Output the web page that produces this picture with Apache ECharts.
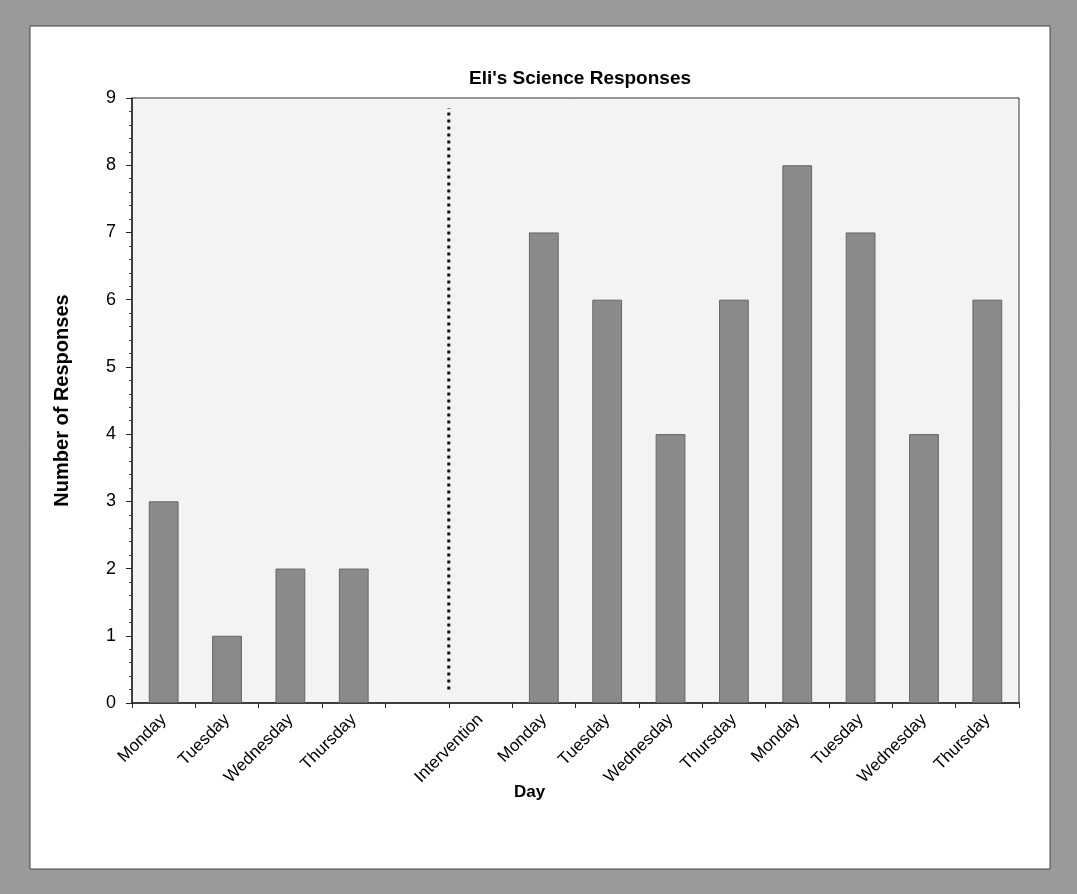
<!DOCTYPE html>
<html>
<head>
<meta charset="utf-8">
<title>Eli's Science Responses</title>
<script src="https://cdn.jsdelivr.net/npm/echarts@6/dist/echarts.min.js"></script>
<style>
  html, body { margin: 0; padding: 0; background: #fff; }
  #chart { width: 1077px; height: 894px; }
</style>
</head>
<body>
<div id="chart"></div>
<script>
  // categories along the x axis (blank slot before the intervention)
  var days = ['Monday', 'Tuesday', 'Wednesday', 'Thursday', '', 'Intervention',
    'Monday', 'Tuesday', 'Wednesday', 'Thursday', 'Monday', 'Tuesday', 'Wednesday', 'Thursday']
  // responses per day, null where no bar
  var responses = [3, 1, 2, 2, null, null, 7, 6, 4, 6, 8, 7, 4, 6]
  var yTicks = [0, 1, 2, 3, 4, 5, 6, 7, 8, 9]
  // dotted intervention marker: slot boundary and value range it spans
  var interventionX = 5
  var interventionRange = [0.2, 8.85]

  var chart = echarts.init(document.getElementById('chart'))

  chart.setOption({
    backgroundColor: '#9a9a9a',
    animation: false,
    textStyle: { fontFamily: 'Liberation Sans, Arial, sans-serif', color: '#000' },
    title: {
      text: "Eli's Science Responses",
      left: 575,
      top: 64,
      textAlign: 'center',
      textStyle: { fontSize: 19, fontWeight: 'bold', color: '#000' }
    },
    graphic: [
      {
        type: 'rect',
        z: -10,
        shape: { x: 30, y: 26, width: 1020, height: 843 },
        style: { fill: '#fff', stroke: '#444', lineWidth: 1 }
      },
      {
        type: 'text',
        left: 514,
        top: 784,
        style: { text: 'Day', font: 'bold 17px Liberation Sans, Arial, sans-serif', fill: '#000' }
      }
    ],
    grid: {
      left: 132,
      right: 58,
      top: 98,
      bottom: 191,
      show: true,
      backgroundColor: '#f3f3f3',
      borderColor: '#333',
      borderWidth: 1
    },
    xAxis: [{
      type: 'category',
      data: days,
      axisLine: { lineStyle: { color: '#222', width: 1.5 } },
      axisTick: { show: true, length: 5, lineStyle: { color: '#222' } },
      axisLabel: {
        interval: 0,
        rotate: 45,
        fontSize: 17,
        color: '#000',
        margin: 14
      }
    }, {
      type: 'value',
      min: 0,
      max: days.length,
      show: false
    }],
    yAxis: {
      type: 'value',
      min: yTicks[0],
      max: yTicks[yTicks.length - 1],
      interval: 1,
      name: 'Number of Responses',
      nameLocation: 'middle',
      nameGap: 60,
      nameTextStyle: { fontSize: 20, fontWeight: 'bold', color: '#000' },
      axisLine: { show: true, lineStyle: { color: '#222', width: 1.5 } },
      axisTick: { show: true, length: 6, lineStyle: { color: '#222' } },
      minorTick: { show: true, splitNumber: 5, length: 3, lineStyle: { color: '#444' } },
      splitLine: { show: false },
      axisLabel: { fontSize: 18, color: '#000', margin: 16 }
    },
    series: [
      {
        name: 'Responses',
        type: 'bar',
        data: responses,
        barWidth: '47%',
        itemStyle: { color: '#8a8a8a', borderColor: '#666', borderWidth: 1 }
      },
      {
        name: 'Intervention',
        type: 'line',
        xAxisIndex: 1,
        data: [[interventionX, interventionRange[0]], [interventionX, interventionRange[1]]],
        symbol: 'none',
        lineStyle: { color: '#111', width: 3, type: [3, 4] },
        z: 5
      }
    ]
  })
</script>
</body>
</html>
